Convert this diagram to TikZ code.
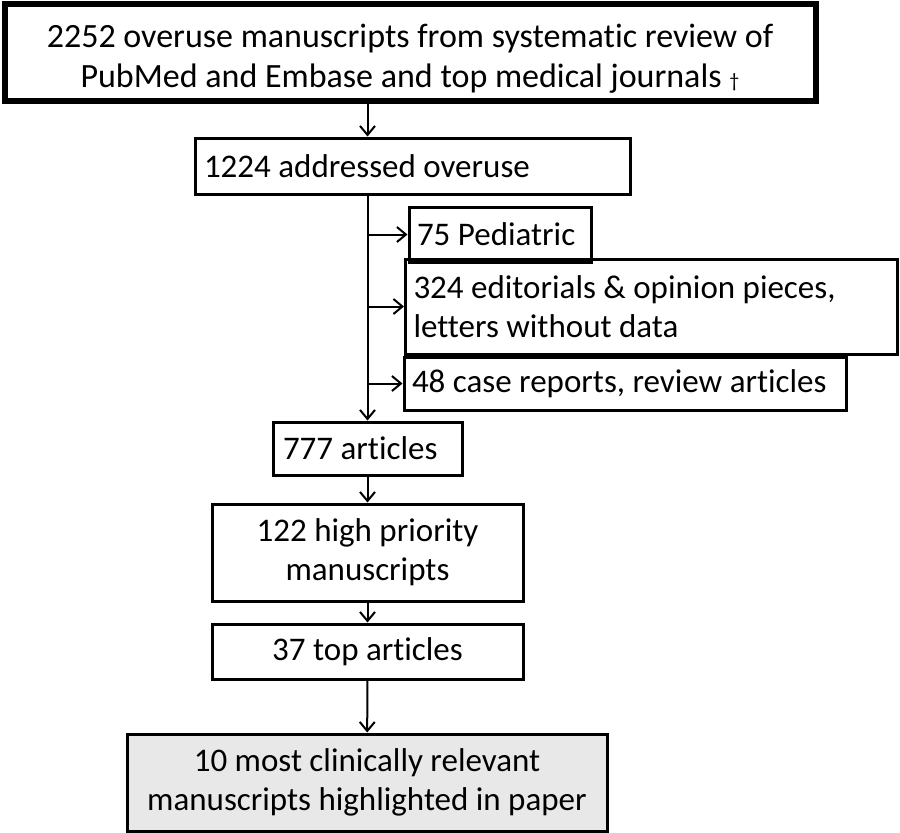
\documentclass[tikz,border=0pt]{standalone}
\usepackage{fontspec}
\setmainfont{Carlito}[Ligatures=NoCommon]
\usetikzlibrary{arrows.meta}

\begin{document}
\begin{tikzpicture}[
    x=1pt, y=-1pt,
    >={Straight Barb[length=9pt,width=15pt]},
    arrow/.style={
        ->,
        line width=2pt
    },
    box/.style={
        rectangle,
        draw,
        line width=3pt,
        inner sep=0pt,
        font=\fontsize{33}{39}\selectfont
    },
    leftbox/.style={
        box,
        align=flush left
    },
    midbox/.style={
        box,
        align=center
    }
]
    \useasboundingbox (0,0) rectangle (900,833);

    % Search
    \node[midbox, line width=6pt, font=\fontsize{34}{40}\selectfont, minimum width=811pt, minimum height=97pt] (search) at (410,52)
        {\rule{0pt}{36pt}2252 overuse manuscripts from systematic review of\\PubMed and Embase and top medical journals {\fontsize{20}{20}\selectfont †}};

    \node[leftbox, minimum width=435pt, minimum height=56pt, text width=417pt] (addr) at (412.5,166) {1224 addressed overuse};

    % Excluded
    \node[leftbox, minimum width=182pt, minimum height=55pt, text width=166pt] (ped) at (500,234.5) {75 Pediatric};
    \node[leftbox, minimum width=492pt, minimum height=95pt, text width=476pt] (edit) at (651.5,306.5) {324 editorials \& opinion pieces,\\letters without data};
    \node[leftbox, minimum width=442pt, minimum height=53pt, text width=426pt] (case) at (625,383.5) {48 case reports, review articles};

    % Selection
    \node[leftbox, minimum width=189pt, minimum height=53pt, text width=169pt] (art) at (367.5,448.5) {777 articles};
    \node[midbox, minimum width=311pt, minimum height=97pt] (high) at (367.5,552.5) {122 high priority\\manuscripts};
    \node[midbox, minimum width=311pt, minimum height=55pt] (topart) at (367.5,651.5) {37 top articles};
    \node[midbox, fill=gray!18, minimum width=480pt, minimum height=97pt] (final) at (367,782.5) {10 most clinically relevant\\manuscripts highlighted in paper};

    % Connections
    \draw[arrow] (art.north |- search.south) -- (art.north |- addr.north);
    \draw[arrow] (art.north |- addr.south) -- (art.north);
    \draw[arrow] (art.north |- ped.west) -- (ped.west);
    \draw[arrow] (art.north |- edit.west) -- (edit.west);
    \draw[arrow] (art.north |- case.west) -- (case.west);
    \draw[arrow] (art) -- (high);
    \draw[arrow] (high) -- (topart);
    \draw[arrow] (topart) -- (final);

\end{tikzpicture}
\end{document}
